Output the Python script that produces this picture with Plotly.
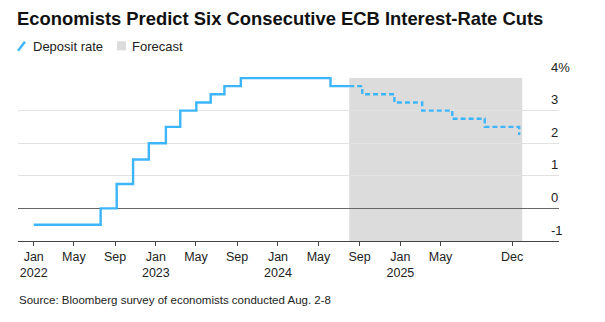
import plotly.graph_objects as go

# ---- data ----
hist_dates = ["2022-01-01", "2022-07-20", "2022-09-06", "2022-10-25", "2022-12-11",
              "2023-01-31", "2023-03-15", "2023-05-02", "2023-06-14", "2023-07-25",
              "2023-09-12", "2024-06-06", "2024-08-01"]
hist_rates = [-0.5, 0.0, 0.75, 1.5, 2.0, 2.5, 3.0, 3.25, 3.5, 3.75, 4.0, 3.75, 3.75]

fc_dates = ["2024-08-01", "2024-09-09", "2024-12-14", "2025-03-07", "2025-06-05",
            "2025-09-10", "2025-12-22"]
fc_rates = [3.75, 3.5, 3.25, 3.0, 2.75, 2.5, 2.25]

forecast_start = "2024-08-01"
forecast_end = "2025-12-31"

x_tickvals = ["2022-01-01", "2022-05-01", "2022-09-01", "2023-01-01", "2023-05-01",
              "2023-09-01", "2024-01-01", "2024-05-01", "2024-09-01", "2025-01-01",
              "2025-05-01", "2025-12-01"]
x_ticktext = ["Jan<br>2022", "May", "Sep", "Jan<br>2023", "May", "Sep", "Jan<br>2024",
              "May", "Sep", "Jan<br>2025", "May", "Dec"]
y_tickvals = [-1, 0, 1, 2, 3, 4]
y_ticktext = ["-1", "0", "1", "2", "3", "4%"]

BLUE = "#3cb5fa"
FONT = "Liberation Sans"
W, H = 605, 322
L, R, T, B = 18, 559, 78, 241


def px(x):
    return (x - L) / (R - L)


def py(y):
    return (B - y) / (B - T)


fig = go.Figure()
fig.add_trace(go.Scatter(x=hist_dates, y=hist_rates, mode="lines",
                         line=dict(color=BLUE, width=2.4, shape="hv"),
                         hoverinfo="skip", showlegend=False))
fig.add_trace(go.Scatter(x=fc_dates, y=fc_rates, mode="lines",
                         line=dict(color=BLUE, width=2.4, shape="hv", dash="5px,3px"),
                         hoverinfo="skip", showlegend=False))

# forecast shading
fig.add_shape(type="rect", xref="x", yref="y", x0=forecast_start, x1=forecast_end,
              y0=-1, y1=4, fillcolor="#dcdcdc", line_width=0, layer="below")

# manual legend
fig.add_shape(type="line", xref="paper", yref="paper",
              x0=px(18), y0=py(52), x1=px(25), y1=py(43),
              line=dict(color=BLUE, width=2.4))
fig.add_annotation(text="Deposit rate", xref="paper", yref="paper", x=px(31), y=py(47.5),
                   xanchor="left", yanchor="middle", showarrow=False,
                   font=dict(family=FONT, size=13, color="#222"))
fig.add_shape(type="rect", xref="paper", yref="paper",
              x0=px(117), y0=py(51.5), x1=px(126), y1=py(42.5),
              fillcolor="#dcdcdc", line_width=0)
fig.add_annotation(text="Forecast", xref="paper", yref="paper", x=px(130), y=py(47.5),
                   xanchor="left", yanchor="middle", showarrow=False,
                   font=dict(family=FONT, size=13, color="#222"))

# source
fig.add_annotation(text="Source: Bloomberg survey of economists conducted Aug. 2-8",
                   xref="paper", yref="paper", x=px(17), y=py(300),
                   xanchor="left", yanchor="middle", showarrow=False,
                   font=dict(family=FONT, size=11.5, color="#222"))

fig.update_layout(
    width=W, height=H,
    margin=dict(l=L, r=W - R, t=T - 1, b=H - B, pad=0),
    paper_bgcolor="white", plot_bgcolor="white",
    font=dict(family=FONT, size=12.5, color="#222"),
    title=dict(text="<b>Economists Predict Six Consecutive ECB Interest-Rate Cuts</b>",
               xref="container", yref="container", x=17 / W, y=1 - 19 / H,
               xanchor="left", yanchor="middle",
               font=dict(family=FONT, size=18.4, color="#111")),
    xaxis=dict(type="date", range=["2021-11-15", "2026-04-20"],
               tickvals=x_tickvals, ticktext=x_ticktext,
               showgrid=False, zeroline=False,
               showline=True, linecolor="#444", linewidth=1.2,
               ticks="outside", ticklen=4, tickcolor="#444", tickwidth=1,
               tickfont=dict(family=FONT, size=12.5, color="#222")),
    yaxis=dict(range=[-1, 4.03], side="right", tickvals=y_tickvals, ticktext=y_ticktext,
               showgrid=True, gridcolor="#e2e2e2", gridwidth=1.2,
               zeroline=True, zerolinecolor="#666", zerolinewidth=1.2,
               showline=False, ticks="",
               ticklabelposition="outside", ticklabelstandoff=-9, ticklabelshift=-11,
               tickfont=dict(family=FONT, size=13, color="#222")),
)

fig.write_html("out.html")
